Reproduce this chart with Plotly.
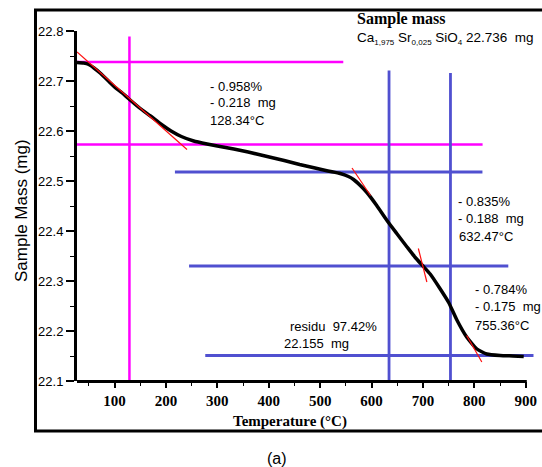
import plotly.graph_objects as go

# ---------------- data ----------------
temp = [27, 40, 50, 60, 72, 90, 100, 115, 127, 150, 170, 190, 210, 230, 254, 280, 300, 332,
        360, 397, 430, 460, 490, 515, 539, 555, 565, 578, 591, 610, 630, 649, 669, 685, 700,
        714, 733, 750, 766, 785, 805, 824, 850, 875, 896]
mass = [22.737, 22.736, 22.733, 22.726, 22.716, 22.698, 22.688, 22.676, 22.665, 22.645,
        22.630, 22.614, 22.600, 22.589, 22.580, 22.574, 22.570, 22.564, 22.558, 22.549,
        22.541, 22.533, 22.526, 22.520, 22.515, 22.509, 22.503, 22.491, 22.477, 22.451,
        22.421, 22.395, 22.368, 22.347, 22.330, 22.314, 22.285, 22.257, 22.222, 22.188,
        22.164, 22.154, 22.151, 22.150, 22.149]

# tangent segments (red)
tangent_x = [[27, 241], [562, 598], [691, 707.6], [785, 814.5]]
tangent_y = [[22.758, 22.563], [22.526, 22.471], [22.365, 22.298], [22.191, 22.138]]

# magenta construction lines
magenta_x = [[27, 545], [27, 816], [129, 129]]
magenta_y = [[22.738, 22.738], [22.573, 22.573], [22.1, 22.789]]

# blue construction lines
blue_x = [[634, 634], [753.5, 753.5], [217.5, 815.7], [245, 866], [276.5, 915]]
blue_y = [[22.1, 22.721], [22.1, 22.716], [22.518, 22.518], [22.33, 22.33], [22.151, 22.151]]

x_ticks = [100, 200, 300, 400, 500, 600, 700, 800, 900]
y_ticks = [22.1, 22.2, 22.3, 22.4, 22.5, 22.6, 22.7, 22.8]

# ---------------- layout geometry ----------------
W, H = 542, 467
L, R, T, B = 77, 8, 31, 86
PW, PH = W - L - R, H - T - B
XMIN, XMAX = 27, 916
YMIN, YMAX = 22.1, 22.8


def px(xp):
    return (xp - L) / PW


def py(yp):
    return (H - B - yp) / PH


SANS = "Arial, Liberation Sans, sans-serif"
SERIF = "Times New Roman, Liberation Serif, serif"
MAGENTA = "#ff00ff"
BLUE = "#5050d0"

fig = go.Figure()

for xs, ys in zip(magenta_x, magenta_y):
    fig.add_trace(go.Scatter(x=xs, y=ys, mode="lines",
                             line=dict(color=MAGENTA, width=2.5), hoverinfo="skip"))
for xs, ys in zip(blue_x, blue_y):
    fig.add_trace(go.Scatter(x=xs, y=ys, mode="lines",
                             line=dict(color=BLUE, width=2.8), hoverinfo="skip"))

fig.add_trace(go.Scatter(x=temp, y=mass, mode="lines",
                         line=dict(color="black", width=3.5, shape="spline", smoothing=0.5)))

for xs, ys in zip(tangent_x, tangent_y):
    fig.add_trace(go.Scatter(x=xs, y=ys, mode="lines",
                             line=dict(color="#ff1010", width=1.2), hoverinfo="skip"))

# ---------------- annotations ----------------
ann = []
text_lines = [
    ("- 0.958%", 210, 86), ("- 0.218&nbsp;&nbsp;mg", 210, 102), ("128.34°C", 210, 120.5),
    ("- 0.835%", 458, 201), ("- 0.188&nbsp;&nbsp;mg", 458, 218), ("632.47°C", 459, 236.5),
    ("- 0.784%", 475, 289), ("- 0.175&nbsp;&nbsp;mg", 475, 306), ("755.36°C", 475, 325.5),
    ("residu&nbsp;&nbsp;97.42%", 290, 326.5), ("22.155&nbsp;&nbsp;mg", 284, 343),
]
for txt, xx, yy in text_lines:
    ann.append(dict(text=txt, x=px(xx - 2), y=py(yy), xref="paper", yref="paper",
                    xanchor="left", yanchor="middle", showarrow=False,
                    font=dict(family=SANS, size=13, color="black")))

ann.append(dict(text="<b>Sample mass</b>", x=px(355), y=py(19), xref="paper", yref="paper",
                xanchor="left", yanchor="middle", showarrow=False,
                font=dict(family=SERIF, size=16, color="black")))
sub = "<sub><span style='font-size:8px'>{}</span></sub>"
formula = ("Ca" + sub.format("1,975") + " Sr" + sub.format("0,025") + " SiO" + sub.format("4")
           + " 22.736&nbsp;&nbsp;mg")
ann.append(dict(text=formula, x=px(355), y=py(38), xref="paper", yref="paper",
                xanchor="left", yanchor="middle", showarrow=False,
                font=dict(family=SANS, size=13.5, color="black")))

ann.append(dict(text="Sample Mass (mg)", x=px(22), y=py(211), xref="paper", yref="paper",
                xanchor="center", yanchor="middle", showarrow=False, textangle=-90,
                font=dict(family=SANS, size=17, color="black")))
ann.append(dict(text="<b>Temperature (°C)</b>", x=px(290), y=py(421), xref="paper", yref="paper",
                xanchor="center", yanchor="middle", showarrow=False,
                font=dict(family=SERIF, size=15, color="black")))
ann.append(dict(text="(a)", x=px(277), y=py(458), xref="paper", yref="paper",
                xanchor="center", yanchor="middle", showarrow=False,
                font=dict(family=SANS, size=16, color="black")))

shapes = [
    # outer frame
    dict(type="rect", xref="paper", yref="paper",
         x0=px(35.5), x1=px(546), y0=py(431), y1=py(10),
         line=dict(color="black", width=3), fillcolor="rgba(0,0,0,0)", layer="below"),
    # x axis line (ends at 902)
    dict(type="line", xref="x", yref="paper", x0=XMIN, x1=902, y0=py(381.5), y1=py(381.5),
         line=dict(color="black", width=3)),
]

fig.update_layout(
    width=W, height=H,
    margin=dict(l=L, r=R, t=T, b=B, autoexpand=False),
    paper_bgcolor="white", plot_bgcolor="white",
    showlegend=False,
    annotations=ann, shapes=shapes,
    xaxis=dict(range=[XMIN, XMAX], showgrid=False, zeroline=False, showline=False,
               tickvals=x_ticks, ticks="outside", ticklen=6, tickwidth=1.5, tickcolor="black",
               tickfont=dict(family=SERIF, size=15, color="black", weight="bold"),
               minor=dict(dtick=50, tick0=0, ticks="outside", ticklen=4, tickwidth=1.2,
                          tickcolor="black"),
               fixedrange=True),
    yaxis=dict(range=[YMIN, YMAX], showgrid=False, zeroline=False, showline=True,
               linecolor="black", linewidth=3,
               tickvals=y_ticks, tickformat=".1f", ticks="outside", ticklen=8, tickwidth=1.5,
               tickcolor="black", tickfont=dict(family=SANS, size=13, color="black"),
               minor=dict(dtick=0.05, tick0=22.1, ticks="outside", ticklen=4, tickwidth=1.2,
                          tickcolor="black"),
               fixedrange=True),
)

fig.write_html("out.html")
